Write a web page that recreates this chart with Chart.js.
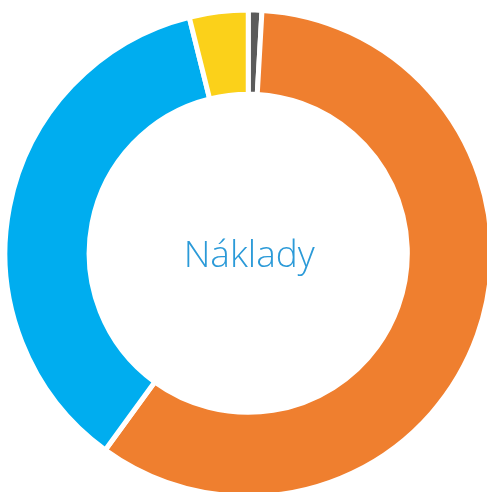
<!DOCTYPE html>
<html>
<head>
<meta charset="utf-8">
<script src="https://cdn.jsdelivr.net/npm/chart.js@4/dist/chart.umd.min.js"></script>
<style>
html,body{margin:0;padding:0;overflow:hidden;background:#fff;width:487px;height:492px;}
#wrap{position:absolute;left:0;top:0;width:494px;height:499px;}
</style>
</head>
<body>
<div id="wrap"><canvas id="c"></canvas></div>
<script>
const categories = ["Ostatní", "Položka A", "Položka B", "Položka C"];
const values = [0.9, 59.1, 36.1, 3.9];
const colors = ["#5B5B5B", "#EF7F2F", "#00ADEF", "#FBD11A"];
const centerTitle = "Náklady";

const centerText = {
  id: 'centerText',
  afterDraw(chart) {
    const meta = chart.getDatasetMeta(0);
    const arc = meta.data[0];
    const ctx = chart.ctx;
    ctx.save();
    ctx.font = '300 37px "Open Sans", sans-serif';
    ctx.fillStyle = '#2B9AD8';
    ctx.textAlign = 'center';
    ctx.textBaseline = 'alphabetic';
    ctx.fillText(centerTitle, arc.x + 1, arc.y + 14);
    ctx.restore();
  }
};

new Chart(document.getElementById('c'), {
  type: 'doughnut',
  data: {
    labels: categories,
    datasets: [{
      data: values,
      backgroundColor: colors,
      borderColor: '#ffffff',
      borderWidth: 5,
      hoverOffset: 0
    }]
  },
  options: {
    responsive: true,
    maintainAspectRatio: false,
    animation: false,
    cutout: '65.4%',
    layout: { padding: { left: 2.5, top: 7.5, right: 0, bottom: 0 } },
    plugins: { legend: { display: false }, tooltip: { enabled: false } }
  },
  plugins: [centerText]
});
</script>
</body>
</html>
